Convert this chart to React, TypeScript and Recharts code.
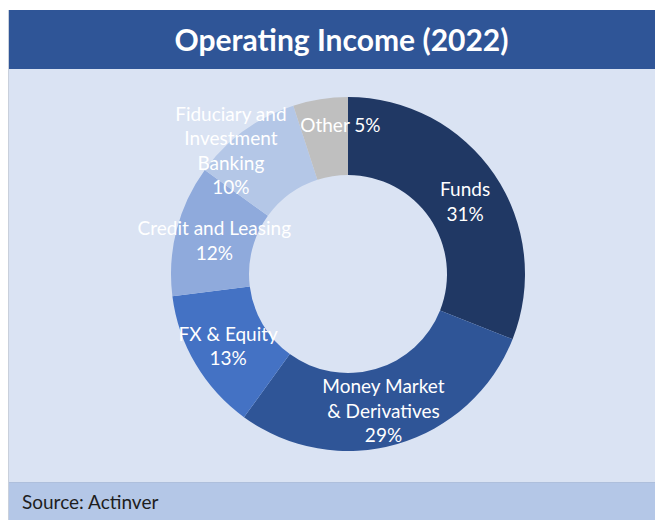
import React from 'react';
import { PieChart, Pie, Cell } from 'recharts';

const categories = [
  'Funds',
  'Money Market\n& Derivatives',
  'FX & Equity',
  'Credit and Leasing',
  'Fiduciary and\nInvestment\nBanking',
  'Other',
];
const shares = [31, 29, 13, 12, 10, 5];
const colors = ['#203864', '#2f5597', '#4472c4', '#8faadc', '#b4c7e7', '#bfbfbf'];
const title = 'Operating Income (2022)';
const source = 'Source: Actinver';

const data = categories.map((name, i) => ({ name, value: shares[i] }));

// label nudges (px) to mimic the reference's label placement
const labelNudge: [number, number][] = [
  [3, 4],
  [-3, 3],
  [-1, 1],
  [0, 0],
  [-36, -13],
  [14, -14],
];

const FONT = 'Lato, "Open Sans", sans-serif';
const LINE = 24.5;

const renderLabel = (props: any) => {
  const { cx, cy, midAngle, innerRadius, outerRadius, index, value, name } = props;
  const RAD = Math.PI / 180;
  const r = (innerRadius + outerRadius) / 2;
  const [nx, ny] = labelNudge[index] || [0, 0];
  const x = cx + r * Math.cos(-midAngle * RAD) + nx;
  const y = cy + r * Math.sin(-midAngle * RAD) + ny;
  const lines: string[] =
    index === 5 ? [`${name} ${value}%`] : [...String(name).split('\n'), `${value}%`];
  const top = y - ((lines.length - 1) * LINE) / 2;
  return (
    <text
      key={`lbl-${index}`}
      x={x}
      y={top}
      fill="#ffffff"
      textAnchor="middle"
      dominantBaseline="central"
      fontFamily={FONT}
      fontSize={19}
    >
      {lines.map((l, i) => (
        <tspan key={i} x={x} y={top + i * LINE}>
          {l}
        </tspan>
      ))}
    </text>
  );
};

export default function App() {
  return (
    <div style={{ paddingTop: 2 }}>
      <div
        style={{
          position: 'relative',
          width: 655,
          height: 510,
          background: '#dae3f3',
          fontFamily: FONT,
          overflow: 'hidden',
          boxSizing: 'border-box',
          borderLeft: '1px solid #c9d0dc',
        }}
      >
        <div
          style={{
            position: 'absolute',
            left: 0,
            top: 0,
            width: 655,
            height: 59,
            background: '#2f5597',
            color: '#ffffff',
            fontWeight: 700,
            fontSize: 30,
            lineHeight: '59px',
            textAlign: 'center',
            paddingLeft: 10,
            boxSizing: 'border-box',
          }}
        >
          {title}
        </div>
        <div
          style={{
            position: 'absolute',
            left: 0,
            top: 472,
            width: 655,
            height: 38,
            background: '#b4c7e7',
            borderTop: '1px solid #aebfdc',
            color: '#1e1e1e',
            fontSize: 19,
            lineHeight: '38px',
            paddingLeft: 13,
            boxSizing: 'border-box',
          }}
        >
          {source}
        </div>
        <div style={{ position: 'absolute', left: 0, top: 0 }}>
          <PieChart width={655} height={472}>
            <Pie
              data={data}
              dataKey="value"
              nameKey="name"
              cx={334}
              cy={259}
              innerRadius={99}
              outerRadius={177}
              startAngle={90}
              endAngle={-270}
              stroke="none"
              label={renderLabel}
              labelLine={false}
              isAnimationActive={false}
            >
              {data.map((d, i) => (
                <Cell key={d.name} fill={colors[i]} />
              ))}
            </Pie>
          </PieChart>
        </div>
      </div>
    </div>
  );
}
